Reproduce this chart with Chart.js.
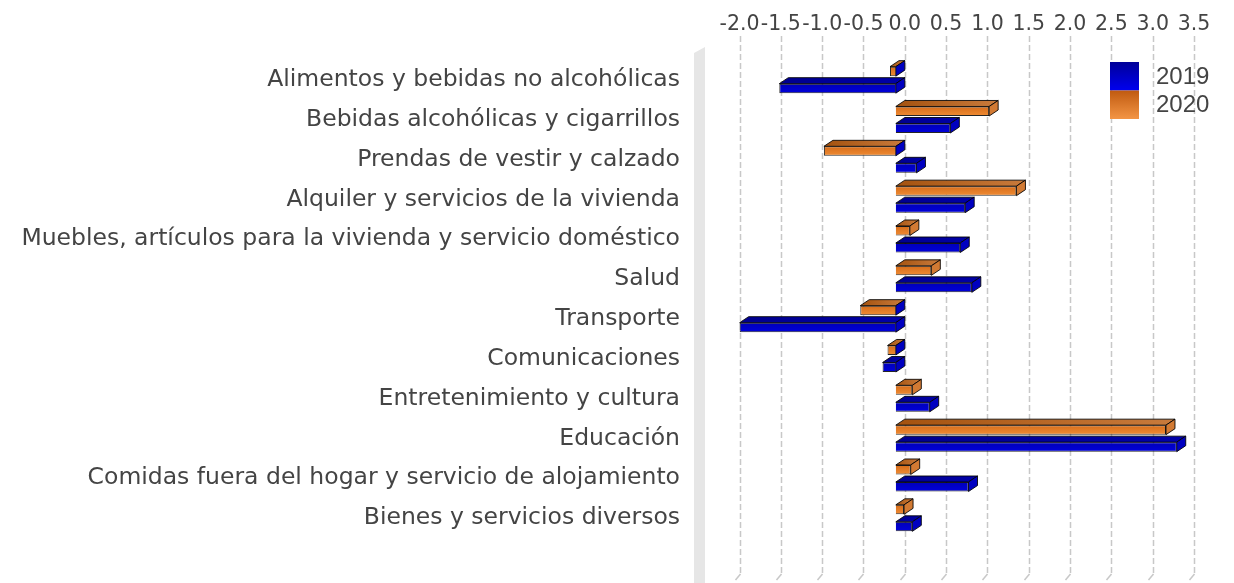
<!DOCTYPE html>
<html>
<head>
<meta charset="utf-8">
<script src="https://cdn.jsdelivr.net/npm/chart.js@4.4.0/dist/chart.umd.min.js"></script>
<style>
  html, body { margin: 0; padding: 0; background: #fff; }
</style>
</head>
<body>
<canvas id="myChart" width="1234" height="583"></canvas>
<script>
const categorias = [
    'Alimentos y bebidas no alcohólicas',
    'Bebidas alcohólicas y cigarrillos',
    'Prendas de vestir y calzado',
    'Alquiler y servicios de la vivienda',
    'Muebles, artículos para la vivienda y servicio doméstico',
    'Salud',
    'Transporte',
    'Comunicaciones',
    'Entretenimiento y cultura',
    'Educación',
    'Comidas fuera del hogar y servicio de alojamiento',
    'Bienes y servicios diversos'
];
const anios = ['2019', '2020'];
const valores2019 = [-1.41, 0.66, 0.25, 0.84, 0.78, 0.92, -1.89, -0.16, 0.41, 3.40, 0.88, 0.20];
const valores2020 = [-0.07, 1.13, -0.87, 1.46, 0.17, 0.43, -0.43, -0.10, 0.20, 3.27, 0.18, 0.10];
const ticksX = [-2.0, -1.5, -1.0, -0.5, 0.0, 0.5, 1.0, 1.5, 2.0, 2.5, 3.0, 3.5];

// profundidad del efecto 3D
const prof = { dx: 9, dy: 6 };

const colores = {
    '2019': { frente: ['#0000b8', '#0000dc'], arriba: ['#00008e', '#0000a8'], lado: '#0000c0', leyenda: ['#000098', '#0000ee'] },
    '2020': { frente: ['#d56c1a', '#f08c34'], arriba: ['#a4520f', '#c97b3c'], lado: '#d27a33', leyenda: ['#c05a10', '#f29444'] }
};

// degradado vertical de la cara frontal de cada barra
function frente(anio) {
    return function (context) {
        const chart = context.chart;
        const c = colores[anio].frente;
        if (!chart.chartArea || context.dataIndex === undefined) return c[1];
        const meta = chart.getDatasetMeta(context.datasetIndex);
        const bar = meta.data[context.dataIndex];
        if (!bar || !isFinite(bar.y)) return c[1];
        const g = chart.ctx.createLinearGradient(0, bar.y - bar.height / 2, 0, bar.y + bar.height / 2);
        g.addColorStop(0, c[0]);
        g.addColorStop(1, c[1]);
        return g;
    };
}

// pared izquierda y lineas de grilla punteadas
const fondo3d = {
    id: 'fondo3d',
    beforeDatasetsDraw(chart) {
        const ctx = chart.ctx;
        const x = chart.scales.x;
        ctx.save();
        ctx.fillStyle = '#e6e6e6';
        ctx.beginPath();
        ctx.moveTo(694, 53);
        ctx.lineTo(705, 47);
        ctx.lineTo(705, 583);
        ctx.lineTo(694, 583);
        ctx.closePath();
        ctx.fill();

        ctx.strokeStyle = '#c8c8c8';
        ctx.lineWidth = 1.5;
        ctx.setLineDash([6, 3]);
        x.ticks.forEach(t => {
            const px = Math.round(x.getPixelForValue(t.value)) + 0.5;
            ctx.beginPath();
            ctx.moveTo(px, 36);
            ctx.lineTo(px, 574);
            ctx.stroke();
        });
        ctx.setLineDash([]);
        x.ticks.forEach(t => {
            const px = Math.round(x.getPixelForValue(t.value)) + 0.5;
            ctx.beginPath();
            ctx.moveTo(px, 574);
            ctx.lineTo(px - 5, 580);
            ctx.stroke();
        });
        ctx.restore();

        // las caras frontales quedan corridas hacia adelante
        ctx.save();
        ctx.translate(-prof.dx, 0);
    },
    afterDatasetsDraw(chart) {
        const ctx = chart.ctx;
        chart.data.datasets.forEach((ds, i) => {
            const meta = chart.getDatasetMeta(i);
            const c = colores[ds.label];
            meta.data.forEach((bar, j) => {
                const izq = Math.min(bar.x, bar.base);
                const der = Math.max(bar.x, bar.base);
                const top = bar.y - bar.height / 2;
                const bot = bar.y + bar.height / 2;

                const g = ctx.createLinearGradient(izq, 0, der + prof.dx, 0);
                g.addColorStop(0, c.arriba[0]);
                g.addColorStop(1, c.arriba[1]);
                ctx.fillStyle = g;
                ctx.strokeStyle = 'rgba(0,0,0,0.85)';
                ctx.lineWidth = 1;
                ctx.beginPath();
                ctx.moveTo(izq, top);
                ctx.lineTo(izq + prof.dx, top - prof.dy);
                ctx.lineTo(der + prof.dx, top - prof.dy);
                ctx.lineTo(der, top);
                ctx.closePath();
                ctx.fill();
                ctx.stroke();

                // en las barras negativas la tapa en cero sale azul
                ctx.fillStyle = ds.data[j] < 0 ? colores['2019'].lado : c.lado;
                ctx.beginPath();
                ctx.moveTo(der, top);
                ctx.lineTo(der + prof.dx, top - prof.dy);
                ctx.lineTo(der + prof.dx, bot - prof.dy);
                ctx.lineTo(der, bot);
                ctx.closePath();
                ctx.fill();
                ctx.stroke();
            });
        });
        ctx.restore();
    },
    afterDraw(chart) {
        const ctx = chart.ctx;
        ctx.save();
        let y = 62;
        anios.forEach(a => {
            const c = colores[a].leyenda;
            const g = ctx.createLinearGradient(0, y, 0, y + 28);
            g.addColorStop(0, c[0]);
            g.addColorStop(1, c[1]);
            ctx.fillStyle = g;
            ctx.fillRect(1110, y, 29, 28.5);
            ctx.fillStyle = '#444';
            ctx.font = '24px "Liberation Sans", Arial, sans-serif';
            ctx.textAlign = 'left';
            ctx.textBaseline = 'middle';
            ctx.fillText(a, 1156, y + 15);
            y += 28.5;
        });
        ctx.restore();
    }
};

const data = {
    labels: categorias,
    datasets: [{
        label: '2020',
        data: valores2020,
        backgroundColor: frente('2020'),
        borderColor: 'rgba(0,0,0,0.85)',
        borderWidth: 1
    }, {
        label: '2019',
        data: valores2019,
        backgroundColor: frente('2019'),
        borderColor: 'rgba(0,0,0,0.85)',
        borderWidth: 1
    }]
};

const config = {
    type: 'bar',
    data: data,
    options: {
        indexAxis: 'y',
        responsive: false,
        animation: false,
        devicePixelRatio: 1,
        categoryPercentage: 0.854,
        barPercentage: 0.56,
        layout: { padding: { top: 0, right: 14, bottom: 45, left: 0 } },
        plugins: {
            legend: { display: false },
            tooltip: { enabled: false }
        },
        scales: {
            x: {
                type: 'linear',
                position: 'top',
                min: -2.418,
                max: 3.809,
                afterBuildTicks: scale => { scale.ticks = ticksX.map(v => ({ value: v })); },
                afterFit: scale => { scale.height = 60; },
                grid: { display: false, drawTicks: false },
                border: { display: false },
                ticks: {
                    padding: 23,
                    color: '#444',
                    maxRotation: 0,
                    autoSkip: false,
                    font: { family: '"DejaVu Sans"', size: 20.5 },
                    callback: v => v.toFixed(1)
                }
            },
            y: {
                afterFit: scale => { scale.width = 705; },
                grid: { display: false, drawTicks: false },
                border: { display: false },
                ticks: {
                    padding: 25,
                    color: '#444',
                    autoSkip: false,
                    font: { family: '"DejaVu Sans"', size: 23.5 }
                }
            }
        }
    },
    plugins: [fondo3d]
};

const myChart = new Chart(document.getElementById('myChart'), config);
// segunda pasada para que los degradados tomen la posicion final de cada barra
myChart.update('none');
</script>
</body>
</html>
